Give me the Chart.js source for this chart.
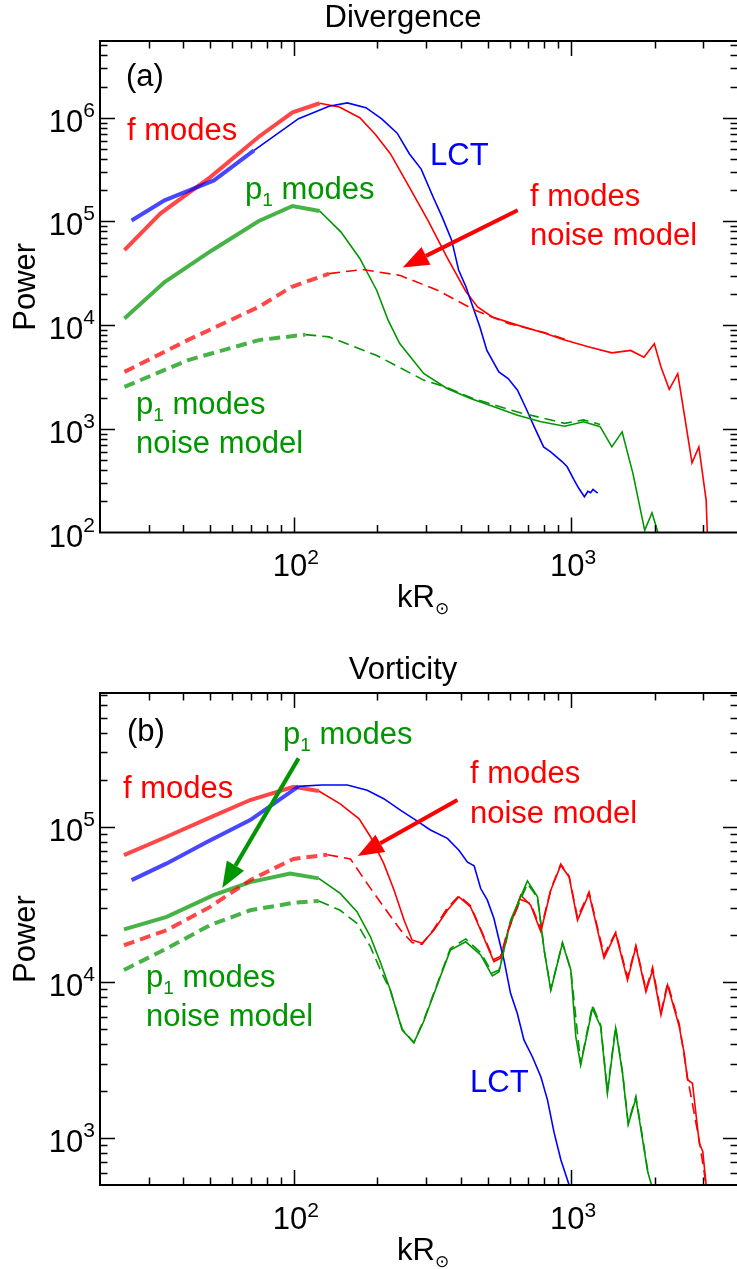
<!DOCTYPE html>
<html>
<head>
<meta charset="utf-8">
<title>Divergence / Vorticity power spectra</title>
<script src="https://cdn.jsdelivr.net/npm/chart.js@4.4.0/dist/chart.umd.min.js"></script>
<style>
  html, body { margin: 0; padding: 0; background: #fff; overflow: hidden; width: 737px; height: 1269px; }
  .panel { position: absolute; left: 0; width: 740px; }
  #wrapA { top: 0; height: 634px; }
  #wrapB { top: 634px; height: 635px; }
</style>
</head>
<body>
<div class="panel" id="wrapA"><canvas id="divChart" width="740" height="634"></canvas></div>
<div class="panel" id="wrapB"><canvas id="vortChart" width="740" height="635"></canvas></div>
<script>
// ======== Data ========

// (a) Divergence
const divFK  = [24.5, 33, 50, 75, 99, 124, 146, 173, 197, 223, 261, 305, 357, 418, 460, 520, 641, 800, 948, 1153, 1403, 1640, 1832, 1997, 2110, 2260, 2425, 2570, 2730, 2890, 3070, 3100];
const divFP  = [5.3e4, 1.19e5, 2.68e5, 6.6e5, 1.13e6, 1.38e6, 1.27e6, 1.0e6, 6.9e5, 4.5e5, 2.14e5, 1.02e5, 4.5e4, 2.1e4, 1.5e4, 1.2e4, 1.0e4, 8.4e3, 7.2e3, 6.2e3, 5.4e3, 5.7e3, 4.9e3, 6.6e3, 3.95e3, 2.4e3, 3.4e3, 1.3e3, 470, 670, 205, 100];
const divFNK = [24.5, 41.6, 74.8, 98, 134, 177, 241, 330, 451, 593, 800, 1000];
const divFNP = [3.54e3, 7.2e3, 1.5e4, 2.33e4, 3.14e4, 3.44e4, 3.02e4, 2.17e4, 1.39e4, 1.04e4, 8.5e3, 7.0e3];
const divLK  = [26, 34.2, 51.5, 71.9, 104, 134, 156, 182, 207, 236, 261, 288, 318, 343, 371, 393, 418, 434, 469, 497, 549, 593, 641, 693, 736, 796, 844, 930, 968, 1026, 1066, 1117, 1150, 1176, 1200, 1247];
const divLP  = [1.02e5, 1.6e5, 2.49e5, 4.84e5, 9.8e5, 1.29e6, 1.39e6, 1.25e6, 9.8e5, 7.1e5, 4.5e5, 3.2e5, 1.72e5, 1.1e5, 6.6e4, 3.4e4, 2.33e4, 1.74e4, 9.6e3, 5.7e3, 3.54e3, 3.05e3, 2.36e3, 1.51e3, 1.05e3, 670, 600, 481, 430, 320, 267, 221, 250, 242, 260, 240];
const divPK  = [24.5, 34.2, 50.6, 74.8, 99, 124, 148, 173, 199, 219, 241, 294, 357, 434, 527, 641, 780, 948, 1110, 1273, 1403, 1528, 1672, 1843, 1958, 2057];
const divPP  = [1.16e4, 2.6e4, 5.25e4, 1.01e5, 1.41e5, 1.26e5, 7.9e4, 4.4e4, 2.17e4, 1.11e4, 6.65e3, 3.42e3, 2.45e3, 1.96e3, 1.63e3, 1.35e3, 1.17e3, 1.06e3, 1.17e3, 1.05e3, 670, 935, 370, 105, 155, 100];
const divPNK = [24.5, 41.6, 74.8, 110, 134, 199, 294, 357, 434, 641, 948, 1110, 1273];
const divPNP = [2.54e3, 4.6e3, 7.17e3, 8.1e3, 7.7e3, 5.1e3, 2.95e3, 2.5e3, 2.0e3, 1.45e3, 1.13e3, 1.22e3, 1.1e3];

// (b) Vorticity
const vorFK  = [24.4, 34.8, 48.6, 69.6, 99.8, 123, 147, 172, 189, 211, 230, 250, 267, 290, 320, 358, 394, 434, 472, 506, 527, 557, 589, 658, 715, 778, 845, 918, 984, 1055, 1161, 1315, 1449, 1598, 1713, 1862, 1968, 2109, 2229, 2455, 2560, 2630, 2740, 2900, 2985, 3070];
const vorFP  = [6.55e4, 8.6e4, 1.12e5, 1.48e5, 1.8e5, 1.69e5, 1.4e5, 1.12e5, 8.6e4, 5.8e4, 3.9e4, 2.5e4, 1.87e4, 1.78e4, 2.16e4, 2.9e4, 3.54e4, 3.05e4, 2.16e4, 1.61e4, 1.36e4, 1.43e4, 2.06e4, 3.63e4, 3.13e4, 2.11e4, 3.9e4, 5.65e4, 4.75e4, 2.5e4, 3.72e4, 1.43e4, 2.06e4, 1.03e4, 1.69e4, 8.7e3, 1.2e4, 6.17e3, 9.6e3, 5.2e3, 3.5e3, 2.37e3, 2.25e3, 930, 820, 500];
const vorFNK = [24.4, 34.8, 49.9, 69.6, 99.8, 132, 160, 184, 211, 243, 267, 290, 320, 358, 394, 434, 472, 506, 527, 557, 589, 658, 715, 778, 845, 918, 984, 1055, 1161, 1315, 1449, 1598, 1713, 1862, 1968, 2109, 2229, 2455, 2630, 2900, 3070];
const vorFNP = [1.73e4, 2.16e4, 3.05e4, 4.53e4, 6.2e4, 6.6e4, 6.2e4, 4.3e4, 3.05e4, 2.16e4, 1.8e4, 1.75e4, 2.2e4, 3.0e4, 3.6e4, 3.1e4, 2.2e4, 1.65e4, 1.4e4, 1.47e4, 2.1e4, 3.4e4, 3.2e4, 2.2e4, 3.95e4, 5.75e4, 4.8e4, 2.6e4, 3.8e4, 1.5e4, 2.1e4, 1.08e4, 1.72e4, 9.0e3, 1.25e4, 6.4e3, 9.9e3, 5.4e3, 2.45e3, 960, 500];
const vorLK  = [26, 34.8, 48.6, 69.6, 84.5, 104, 126, 156, 184, 211, 243, 271, 311, 358, 394, 423, 447, 472, 499, 527, 550, 573, 605, 640, 676, 725, 778, 822, 869, 919, 984];
const vorLP  = [4.53e4, 5.8e4, 7.96e4, 1.1e5, 1.4e5, 1.81e5, 1.85e5, 1.85e5, 1.71e5, 1.51e5, 1.27e5, 1.12e5, 9.5e4, 8.4e4, 7.05e4, 5.9e4, 5.6e4, 4.0e4, 3.37e4, 2.57e4, 1.87e4, 1.39e4, 8.5e3, 6.3e3, 4.27e3, 3.33e3, 2.48e3, 1.76e3, 1.08e3, 724, 500];
const vorPK  = [24.4, 34.8, 51.3, 69.6, 97, 123, 147, 169, 189, 206, 223, 246, 271, 294, 334, 367, 417, 472, 520, 550, 605, 696, 757, 800, 845, 931, 998, 1040, 1083, 1194, 1279, 1352, 1448, 1533, 1607, 1713, 1812, 1889, 1950];
const vorPP  = [2.19e4, 2.63e4, 3.63e4, 4.4e4, 5.0e4, 4.65e4, 3.72e4, 2.84e4, 1.96e4, 1.32e4, 8.9e3, 4.94e3, 4.1e3, 5.6e3, 1.03e4, 1.61e4, 1.82e4, 1.5e4, 1.1e4, 1.17e4, 2.5e4, 4.48e4, 3.54e4, 1.61e4, 8.9e3, 1.78e4, 1.2e4, 4.48e3, 2.95e3, 6.8e3, 5.19e3, 1.94e3, 5.07e3, 2.61e3, 1.22e3, 1.8e3, 975, 610, 500];
const vorPNK = [24.4, 34.8, 49.9, 69.6, 99.8, 123, 147, 169, 189, 208, 223, 246, 271, 294, 334, 367, 417, 472, 520, 550, 605, 696, 757, 800, 845, 931, 998, 1083, 1194, 1279, 1352, 1448, 1533, 1607, 1713, 1812, 1889];
const vorPNP = [1.2e4, 1.65e4, 2.33e4, 2.9e4, 3.24e4, 3.33e4, 2.9e4, 2.39e4, 1.69e4, 1.14e4, 8.9e3, 5.0e3, 4.1e3, 5.7e3, 1.05e4, 1.65e4, 1.9e4, 1.55e4, 1.15e4, 1.2e4, 2.4e4, 4.3e4, 3.5e4, 1.6e4, 9.0e3, 1.8e4, 1.2e4, 3.0e3, 7.1e3, 5.3e3, 2.0e3, 5.2e3, 2.65e3, 1.25e3, 1.85e3, 1.0e3, 620];

// Ticks
const xMajorTicks = [100, 1000];
const xTickLabels = [["10", "2"], ["10", "3"]];
const divYMajorTicks = [1e2, 1e3, 1e4, 1e5, 1e6];
const divYTickLabels = [["10", "2"], ["10", "3"], ["10", "4"], ["10", "5"], ["10", "6"]];
const vorYMajorTicks = [1e3, 1e4, 1e5];
const vorYTickLabels = [["10", "3"], ["10", "4"], ["10", "5"]];

// ======== Style ========
const FONT = '"Liberation Sans", Arial, Helvetica, sans-serif';
const RED = "#ff0000";
const GREEN = "#009600";
const BLUE = "#0000ff";
const BAND = { "#ff0000": "rgba(255,0,0,0.72)", "#009600": "rgba(0,150,0,0.72)", "#0000ff": "rgba(0,0,255,0.72)" };

// thin line, drawn as a lighter wide band at low k (the error band)
function serie(ks, ps, color, dashed, bandEnd) {
  return {
    data: ks.map((k, i) => ({ x: k, y: ps[i] })),
    borderColor: color,
    borderWidth: 1.6,
    borderDash: dashed ? [11, 6] : [],
    pointRadius: 0,
    fill: false,
    tension: 0,
    segment: {
      borderWidth: (c) => (c.p0.parsed.x < bandEnd ? 4 : 1.6),
      borderColor: (c) => (c.p0.parsed.x < bandEnd ? BAND[color] : color),
    },
  };
}

// rich text: parts = [text, size, dy]
function richWidth(ctx, parts) {
  let w = 0;
  parts.forEach((p) => {
    ctx.font = p[1] + "px " + FONT;
    w += ctx.measureText(p[0]).width;
  });
  return w;
}
function richText(ctx, parts, x, y, align) {
  const w = richWidth(ctx, parts);
  let cx = align === "center" ? x - w / 2 : align === "right" ? x - w : x;
  ctx.textAlign = "left";
  ctx.textBaseline = "alphabetic";
  parts.forEach((p) => {
    ctx.font = p[1] + "px " + FONT;
    ctx.fillText(p[0], cx, y + (p[2] || 0));
    cx += ctx.measureText(p[0]).width;
  });
}

const P1 = [["p", 31], ["1", 19, 7], [" modes", 31]];

function logTicks(min, max) {
  const out = [];
  for (let e = Math.floor(Math.log10(min)); e <= Math.ceil(Math.log10(max)); e++) {
    for (let m = 1; m <= 9; m++) {
      const v = m * Math.pow(10, e);
      if (v > min * 1.001 && v < max * 0.999) out.push({ v, major: m === 1 });
    }
  }
  return out;
}

function arrow(ctx, x0, y0, x1, y1, color) {
  const ang = Math.atan2(y1 - y0, x1 - x0);
  const len = 26, half = 10;
  const bx = x1 - len * Math.cos(ang), by = y1 - len * Math.sin(ang);
  ctx.strokeStyle = color;
  ctx.fillStyle = color;
  ctx.lineWidth = 4;
  ctx.beginPath();
  ctx.moveTo(x0, y0);
  ctx.lineTo(bx, by);
  ctx.stroke();
  ctx.beginPath();
  ctx.moveTo(x1, y1);
  ctx.lineTo(bx + half * Math.sin(ang), by - half * Math.cos(ang));
  ctx.lineTo(bx - half * Math.sin(ang), by + half * Math.cos(ang));
  ctx.closePath();
  ctx.fill();
}

// frame, ticks, labels and notes drawn on top of the data
const framePlugin = {
  id: "frame",
  afterDatasetsDraw(chart, args, o) {
    const { ctx, chartArea: a } = chart;
    const x = chart.scales.x, y = chart.scales.y;
    ctx.save();

    // ticks on all four sides
    ctx.strokeStyle = "#000";
    ctx.lineWidth = 1.5;
    ctx.beginPath();
    logTicks(x.min, x.max).forEach((t) => {
      const px = Math.round(x.getPixelForValue(t.v)) + 0.5;
      const len = t.major ? 15 : 7.5;
      ctx.moveTo(px, a.bottom); ctx.lineTo(px, a.bottom - len);
      ctx.moveTo(px, a.top); ctx.lineTo(px, a.top + len);
    });
    logTicks(y.min, y.max).forEach((t) => {
      const py = Math.round(y.getPixelForValue(t.v)) + 0.5;
      const len = t.major ? 15 : 7.5;
      ctx.moveTo(a.left, py); ctx.lineTo(a.left + len, py);
      ctx.moveTo(a.right, py); ctx.lineTo(a.right - len, py);
    });
    ctx.stroke();

    // box
    ctx.lineWidth = 2;
    ctx.strokeRect(a.left, a.top, a.right - a.left, a.bottom - a.top);

    ctx.fillStyle = "#000";
    // x tick labels
    xMajorTicks.forEach((v, i) => {
      const lab = xTickLabels[i];
      richText(ctx, [[lab[0], 31], [lab[1], 21, -12]], x.getPixelForValue(v) + 2, a.bottom + 43.5, "center");
    });
    // y tick labels
    o.yTicks.forEach((v, i) => {
      const lab = o.yLabels[i];
      const py = y.getPixelForValue(v);
      richText(ctx, [[lab[0], 31], [lab[1], 21, -15]], a.left - 5, py + 14, "right");
    });

    // axis titles
    richText(ctx, [["kR", 31], ["\u2299", 17, 7]], 423, a.bottom + 74.5, "center");
    ctx.save();
    ctx.translate(35, (a.top + a.bottom) / 2);
    ctx.rotate(-Math.PI / 2);
    richText(ctx, [["Power", 31]], 0, 0, "center");
    ctx.restore();

    // panel title
    richText(ctx, [[o.title, 31]], 403, a.top - 14, "center");

    // notes
    o.notes.forEach((n) => {
      ctx.fillStyle = n.color;
      richText(ctx, n.parts, n.x, n.y, "left");
    });

    // arrows (data coordinates)
    o.arrows.forEach((r) => {
      arrow(ctx, x.getPixelForValue(r.from[0]), y.getPixelForValue(r.from[1]),
        x.getPixelForValue(r.to[0]), y.getPixelForValue(r.to[1]), r.color);
    });

    ctx.restore();
  },
};

function baseOptions(pad, yMin, yMax, frame) {
  return {
    responsive: false,
    animation: false,
    events: [],
    layout: { padding: pad },
    plugins: {
      legend: { display: false },
      tooltip: { enabled: false },
      title: { display: false },
      frame,
    },
    scales: {
      x: { type: "logarithmic", min: 20, max: 4000, display: false },
      y: { type: "logarithmic", min: yMin, max: yMax, display: false },
    },
  };
}

// ======== (a) Divergence ========
new Chart(document.getElementById("divChart"), {
  type: "line",
  data: {
    datasets: [
      serie(divFNK, divFNP, RED, true, 100),
      serie(divPNK, divPNP, GREEN, true, 100),
      serie(divPK, divPP, GREEN, false, 100),
      serie(divLK, divLP, BLUE, false, 60),
      serie(divFK, divFP, RED, false, 100),
    ],
  },
  options: baseOptions({ left: 100, right: 2, top: 41, bottom: 101.5 }, 100, 5.5e6, {
    title: "Divergence",
    yTicks: divYMajorTicks,
    yLabels: divYTickLabels,
    notes: [
      { parts: [["(a)", 31]], x: 126, y: 86, color: "#000" },
      { parts: [["f modes", 31]], x: 127, y: 140, color: RED },
      { parts: [["LCT", 31]], x: 430, y: 165, color: BLUE },
      { parts: P1, x: 245, y: 199, color: GREEN },
      { parts: [["f modes", 31]], x: 530, y: 206, color: RED },
      { parts: [["noise model", 31]], x: 530, y: 245, color: RED },
      { parts: P1, x: 136, y: 414, color: GREEN },
      { parts: [["noise model", 31]], x: 136, y: 453, color: GREEN },
    ],
    arrows: [{ from: [642, 1.28e5], to: [247, 3.6e4], color: RED }],
  }),
  plugins: [framePlugin],
});

// ======== (b) Vorticity ========
new Chart(document.getElementById("vortChart"), {
  type: "line",
  data: {
    datasets: [
      serie(vorFNK, vorFNP, RED, true, 100),
      serie(vorPNK, vorPNP, GREEN, true, 100),
      serie(vorLK, vorLP, BLUE, false, 104),
      serie(vorPK, vorPP, GREEN, false, 100),
      serie(vorFK, vorFP, RED, false, 100),
    ],
  },
  options: baseOptions({ left: 100, right: 2, top: 59, bottom: 84 }, 500, 7.2e5, {
    title: "Vorticity",
    yTicks: vorYMajorTicks,
    yLabels: vorYTickLabels,
    notes: [
      { parts: [["(b)", 31]], x: 127, y: 106.5, color: "#000" },
      { parts: P1, x: 283, y: 110, color: GREEN },
      { parts: [["f modes", 31]], x: 123, y: 164, color: RED },
      { parts: [["f modes", 31]], x: 470, y: 149, color: RED },
      { parts: [["noise model", 31]], x: 470, y: 189, color: RED },
      { parts: P1, x: 146, y: 353, color: GREEN },
      { parts: [["noise model", 31]], x: 146, y: 392, color: GREEN },
      { parts: [["LCT", 31]], x: 470, y: 458, color: BLUE },
    ],
    arrows: [
      { from: [104, 2.74e5], to: [55.2, 4.03e4], color: GREEN },
      { from: [389, 1.48e5], to: [170, 6.46e4], color: RED },
    ],
  }),
  plugins: [framePlugin],
});
</script>
</body>
</html>
